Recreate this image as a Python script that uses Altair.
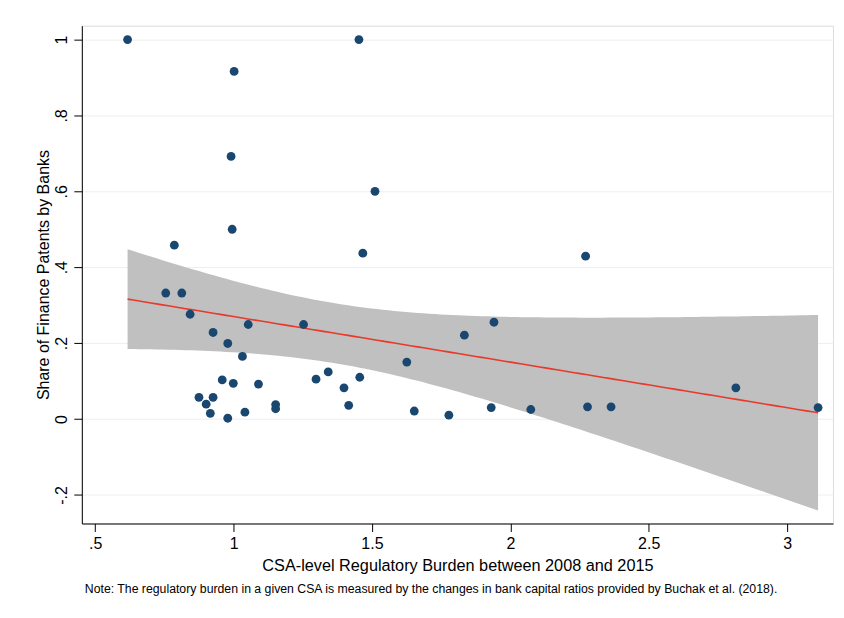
import altair as alt
import numpy as np
import pandas as pd

# Scatter data
burden = [0.617, 1.002, 1.453, 0.991, 1.511, 0.995, 0.786, 1.467, 2.272,
          0.755, 0.813, 0.843, 0.926, 0.979, 1.032, 1.053, 1.253, 1.834, 1.626,
          0.959, 0.999, 1.090, 0.875, 0.926, 0.901, 0.916, 0.979, 1.041, 1.152,
          1.152, 1.298, 1.342, 1.399, 1.456, 1.416, 1.653, 1.778, 1.941, 1.931,
          2.074, 2.279, 2.364, 2.815, 3.112]
share = [1.000, 0.916, 1.000, 0.692, 0.600, 0.500, 0.458, 0.437, 0.429,
         0.332, 0.332, 0.276, 0.228, 0.199, 0.165, 0.249, 0.249, 0.221, 0.150,
         0.103, 0.094, 0.092, 0.057, 0.057, 0.039, 0.015, 0.002, 0.018, 0.038,
         0.027, 0.105, 0.124, 0.082, 0.110, 0.036, 0.021, 0.010, 0.255, 0.030,
         0.025, 0.032, 0.032, 0.082, 0.030]

x_ticks = [0.5, 1, 1.5, 2, 2.5, 3]
y_ticks = [-0.2, 0, 0.2, 0.4, 0.6, 0.8, 1]

x_title = "CSA-level Regulatory Burden between 2008 and 2015"
y_title = "Share of Finance Patents by Banks"
note = ("Note: The regulatory burden in a given CSA is measured by the changes in "
        "bank capital ratios provided by Buchak et al. (2018).")

# Linear fit with 95% CI (as Stata lfitci)
X = np.array(burden)
Y = np.array(share)
n = len(X)
slope, intercept = np.polyfit(X, Y, 1)
resid = Y - (intercept + slope * X)
s = np.sqrt((resid ** 2).sum() / (n - 2))
xbar = X.mean()
sxx = ((X - xbar) ** 2).sum()
t_crit = 2.018  # t(0.975, df=42)
grid = np.linspace(X.min(), X.max(), 120)
fit = intercept + slope * grid
se = s * np.sqrt(1.0 / n + (grid - xbar) ** 2 / sxx)

pts = pd.DataFrame({"x": burden, "y": share})
band = pd.DataFrame({"x": grid, "fit": fit, "lo": fit - t_crit * se, "hi": fit + t_crit * se})

FONT = "Liberation Sans"
xdom = [0.4517, 3.166]
ydom = [-0.2754, 1.0365]

label_expr = ("datum.value == 0 ? '0' : replace(replace(format(datum.value, '.1~f'), '0.', '.'), '\u2212', '-')")

xscale = alt.Scale(domain=xdom, nice=False, zero=False)
yscale = alt.Scale(domain=ydom, nice=False, zero=False)

xaxis = alt.Axis(values=x_ticks, labelExpr=label_expr, grid=False, tickSize=8,
                 tickColor="#000000", domainColor="#000000", labelColor="#000000",
                 labelFontSize=16, labelFont=FONT, labelPadding=4,
                 title=x_title, titleFont=FONT, titleFontSize=16.3, titleFontWeight="normal",
                 titleColor="#000000", titleY=42, titleBaseline="middle")
yaxis = alt.Axis(values=y_ticks, labelExpr=label_expr, grid=True, gridColor="#eeeeee",
                 tickSize=8, tickColor="#000000", domainColor="#000000", labelColor="#000000",
                 labelFontSize=16, labelFont=FONT, labelAngle=270, labelAlign="center",
                 labelBaseline="bottom", labelPadding=4,
                 title=y_title, titleFont=FONT, titleFontSize=16, titleFontWeight="normal",
                 titleColor="#000000", titleX=-38, titleBaseline="middle", titleAngle=270)

area = alt.Chart(band).mark_area(color="#c0c0c0", opacity=1).encode(
    x=alt.X("x:Q", scale=xscale, axis=xaxis),
    y=alt.Y("lo:Q", scale=yscale, axis=yaxis),
    y2="hi:Q",
)
line = alt.Chart(band).mark_line(color="#e8392b", strokeWidth=1.6).encode(
    x=alt.X("x:Q", scale=xscale),
    y=alt.Y("fit:Q", scale=yscale),
)
dots = alt.Chart(pts).mark_circle(color="#1a476f", size=78, opacity=1).encode(
    x=alt.X("x:Q", scale=xscale),
    y=alt.Y("y:Q", scale=yscale),
)

chart = alt.layer(area, line, dots).properties(
    width=753, height=499,
    autosize=alt.AutoSizeParams(type="none"),
    padding={"left": 74, "top": 17, "right": 3, "bottom": 90},
    title=alt.TitleParams(note, orient="bottom", anchor="start", frame="group",
                          font=FONT, fontSize=12.3, fontWeight="normal",
                          color="#000000", offset=9, dx=3),
).configure_view(stroke=None).configure(background="#ffffff")

chart.save("out.html", embed_options={"renderer": "svg", "actions": False})
